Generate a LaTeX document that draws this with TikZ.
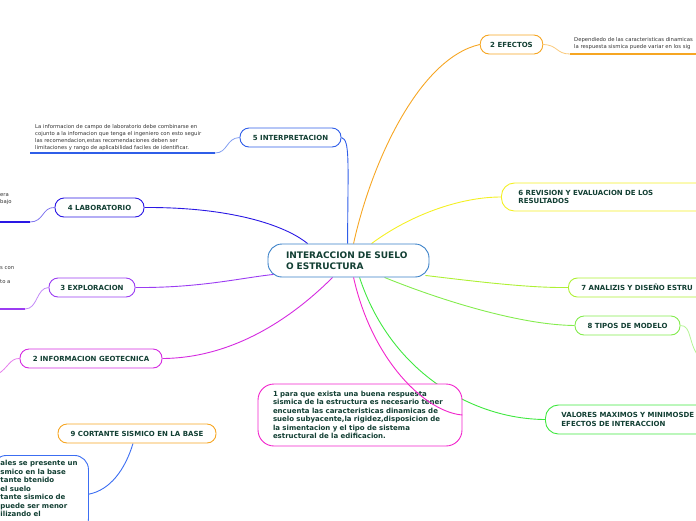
\documentclass[tikz,border=0pt]{standalone}
\usepackage{fontspec}
\setmainfont{DejaVu Sans}
\usepackage{xcolor}
\usepackage{tikz}
\usetikzlibrary{backgrounds}

\definecolor{txtgreen}{HTML}{123F33}
\definecolor{notegray}{HTML}{333333}
\definecolor{rootblue}{HTML}{3A80C8}
\definecolor{interpblue}{HTML}{2F5EE8}
\definecolor{labblue}{HTML}{2A18E4}
\definecolor{explpurple}{HTML}{9B3CF2}
\definecolor{infomag}{HTML}{D42AE0}
\definecolor{parapink}{HTML}{F224CC}
\definecolor{valgreen}{HTML}{40E840}
\definecolor{modgreen}{HTML}{84EC4E}
\definecolor{anagreen}{HTML}{AEF034}
\definecolor{revyellow}{HTML}{F4F024}
\definecolor{efforange}{HTML}{F6A623}
\definecolor{baseblue}{HTML}{3C6EF2}

\begin{document}
\begin{tikzpicture}[x=1pt,y=-1pt,
  topic/.style={draw, rounded corners=9pt, line width=0.9pt, fill=white, text=txtgreen,
    font=\bfseries\fontsize{7}{8.5}\selectfont, minimum height=19pt, inner xsep=10pt, inner ysep=2pt},
  bigtopic/.style={topic, rounded corners=13pt, align=left, anchor=west},
  note/.style={text=notegray, font=\fontsize{5.3}{6.8}\selectfont, align=left, inner sep=0pt, anchor=north west},
  link/.style={line width=0.9pt},
  sublink/.style={line width=0.8pt, opacity=0.6},
  ul/.style={line width=2pt}]

\clip (0,0) rectangle (696,520);

% central topic
\node[topic, draw=rootblue, rounded corners=14pt, minimum width=161pt, minimum height=33pt,
  text width=125pt, inner xsep=18pt, align=left, font=\bfseries\fontsize{9}{11}\selectfont]
  (root) at (348.5,260.5) {INTERACCION DE SUELO\\O ESTRUCTURA};

% left side
\node[topic, draw=interpblue, minimum width=101pt] (interp) at (290.5,137.5) {5 INTERPRETACION};
\node[topic, draw=labblue, minimum width=89pt] (lab) at (99.5,207.5) {4 LABORATORIO};
\node[topic, draw=explpurple, minimum width=86pt] (explo) at (92,287.5) {3 EXPLORACION};
\node[topic, draw=infomag, minimum width=142pt] (geotec) at (91,358.5) {2 INFORMACION GEOTECNICA};
\node[topic, draw=efforange, minimum width=158pt] (cortante) at (137,433.5) {9 CORTANTE SISMICO EN LA BASE};
\node[topic, draw=baseblue, rounded corners=14pt, anchor=north west, text width=80pt,
  inner xsep=8pt, inner ysep=5pt, align=left] (basebox) at (-8,455)
  {\mbox{ales se presente un}\\\mbox{smico en la base}\\tante btenido\\el suelo\\\mbox{tante sismico de}\\\mbox{puede ser menor}\\ilizando el\\ \strut};
\node[topic, draw=parapink, rounded corners=16pt, text width=174pt, inner xsep=15pt,
  minimum height=62pt, align=left] (para) at (360,415)
  {1 para que exista una buena respuesta\\sismica de la estructura es necesario tener\\encuenta las caracteristicas dinamicas de\\suelo subyacente,la rigidez,disposicion de\\la simentacion y el tipo de sistema\\estructural de la edificacion.};

% right side
\node[topic, draw=efforange] (efectos) at (511.5,44.5) {2 EFECTOS};
\node[bigtopic, draw=revyellow, minimum height=28pt, text width=200pt, inner xsep=17pt]
  (revision) at (501,197) {6 REVISION Y EVALUACION DE LOS\\RESULTADOS};
\node[topic, draw=anagreen, anchor=west, inner xsep=13pt, text width=150pt, align=left]
  (analisis) at (568,287.5) {7 ANALIZIS Y DISEÑO ESTRU};
\node[topic, draw=modgreen, minimum width=105pt] (modelo) at (627.5,325.5) {8 TIPOS DE MODELO};
\node[bigtopic, draw=valgreen, minimum height=29pt, text width=200pt, inner xsep=16pt]
  (valores) at (545,419.5) {VALORES MAXIMOS Y MINIMOSDE\\EFECTOS DE INTERACCION};

% notes
\node[note] (effnote) at (574,37.5) {Dependiedo de las caracteristicas dinamicas\\la respuesta sismica puede variar en los sig};
\node[note] (interpnote) at (35,124.5) {La informacion de campo de laboratorio debe combinarse en\\cojunto a la infomacion que tenga el ingeniero con esto seguir\\las recomendacion,estas recomendaciones deben ser\\limitaciones y rango de aplicabilidad faciles de identificar.};
\node[note] (labnote) at (0,193.5) {era\\bajo};
\node[note] (explonote) at (0,266.5) {s con\\ \\to a};

\coordinate (effA) at (570,54);   \coordinate (effB) at (700,54);
\coordinate (intA) at (215,153);  \coordinate (intB) at (30,153);
\coordinate (labA) at (30,222);   \coordinate (labB) at (-5,222);
\coordinate (expA) at (25,309);   \coordinate (expB) at (-5,309);
\coordinate (geoA) at (-2,374);
\coordinate (modA) at (700,358);

\begin{pgfonlayer}{background}
% links from the root
\draw[link, efforange] ([xshift=86pt]root.north west) .. controls (372,160) and (420,58) .. (efectos.west);
\draw[link, interpblue] (interp.east) .. controls (350,140) and (348,160) .. ([xshift=80pt]root.north west);
\draw[link, revyellow] ([xshift=104pt]root.north west) .. controls (410,215) and (460,197) .. (revision.west);
\draw[link, labblue] (lab.east) .. controls (230,207) and (285,225) .. ([xshift=40pt]root.north west);
\draw[link, explpurple] (explo.east) .. controls (200,288) and (240,278) .. ([xshift=6pt,yshift=3pt]root.south west);
\draw[link, infomag] (geotec.east) .. controls (240,358) and (300,310) .. ([xshift=65pt]root.south west);
\draw[link, valgreen] ([xshift=92pt]root.south west) .. controls (390,370) and (470,419) .. (valores.west);
\draw[link, modgreen] ([xshift=117pt]root.south west) .. controls (440,300) and (520,325) .. (modelo.west);
\draw[link, anagreen] ([xshift=-4pt,yshift=2pt]root.south east) .. controls (480,282) and (530,288) .. (analisis.west);

% links to the notes
\draw[sublink, efforange] (efectos.east) .. controls (558,45) and (556,54) .. (effA);
\draw[sublink, interpblue] (interp.west) .. controls (226,138) and (228,153) .. (intA);
\draw[sublink, labblue] (lab.west) .. controls (42,207) and (44,222) .. (labA);
\draw[sublink, explpurple] (explo.west) .. controls (36,288) and (38,309) .. (expA);
\draw[sublink, infomag] (geotec.west) .. controls (10,358) and (8,368) .. (geoA);
\draw[sublink, modgreen] (modelo.east) .. controls (692,325) and (688,345) .. (modA);
\draw[link, baseblue] ([xshift=-4pt]cortante.south) .. controls (125,470) and (110,490) .. (basebox.east);
\end{pgfonlayer}

\draw[ul, efforange] (effA) -- (effB);
\draw[ul, interpblue] (intA) -- (intB);
\draw[ul, labblue] (labA) -- (labB);
\draw[ul, explpurple] (expA) -- (expB);

\draw[link, parapink] ([xshift=86pt]root.south west) .. controls (372,360) and (425,412) .. (para.east);

\end{tikzpicture}
\end{document}
